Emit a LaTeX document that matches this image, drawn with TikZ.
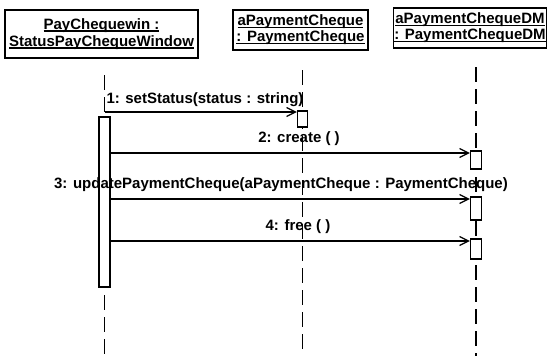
\documentclass[tikz,border=0pt]{standalone}
\usepackage{fontspec}
\setmainfont{Liberation Sans}
\usetikzlibrary{arrows.meta}
\newcommand\myul[1]{\setbox0\hbox{#1}\rlap{\rule[-2.2pt]{\wd0}{1.2pt}}\box0}
\begin{document}
\begin{tikzpicture}[x=1pt,y=-1pt,
  txt/.style={font=\fontsize{15}{15}\selectfont\bfseries, inner sep=0pt},
  objbox/.style={draw, line width=1.3pt, txt, align=center, inner sep=1pt},
  life/.style={line width=1.2pt, dash pattern=on 15pt off 7pt},
  actbar/.style={draw, line width=1.2pt, fill=white, minimum width=11pt, inner sep=0pt},
  msg/.style={line width=1.2pt, -{Straight Barb[length=9pt,width=9pt,line width=1.2pt]}}
]
\useasboundingbox (0,0) rectangle (550,356);
% objects
\node[objbox, minimum width=193pt, minimum height=48pt] (o1) at (101.5,34) {\myul{PayChequewin :}\\[2pt]\myul{StatusPayChequeWindow}};
\node[objbox, minimum width=135pt, minimum height=40pt] (o2) at (300.5,30) {\myul{aPaymentCheque}\\[1pt]\myul{: PaymentCheque}};
\node[objbox, minimum width=153pt, minimum height=40pt] (o3) at (470,28) {\myul{aPaymentChequeDM}\\[1pt]\myul{: PaymentChequeDM}};
% lifeline ends
\coordinate (l1t) at (104.5,75);
\coordinate (l1b) at (104.5,356);
\coordinate (l2t) at (302.5,70);
\coordinate (l2b) at (302.5,356);
\coordinate (l3t) at (476,67);
\coordinate (l3b) at (476,356);
\draw[life] (l1t) -- (l1b);
\draw[life] (l2t) -- (l2b);
\draw[life] (l3t) -- (l3b);
% activations
\node[actbar, minimum height=170pt] (a1) at (104.5,202) {};
\node[actbar, minimum width=10pt, minimum height=16pt] (a2) at (302.5,119) {};
\node[actbar, minimum height=18pt] (a3) at (476,160) {};
\node[actbar, minimum height=23pt] (a4) at (476,208.5) {};
\node[actbar, minimum height=20pt] (a5) at (476,249) {};
% messages
\coordinate (m1s) at (104.5,112);
\draw[msg] (m1s) -- (m1s -| a2.west);
\node[txt] (t1) at (205,100) {1: setStatus(status : string)};
\coordinate (m2s) at (a1.east |- 0,153);
\draw[msg] (m2s) -- (m2s -| a3.west);
\node[txt] (t2) at (299,139) {2: create ( )};
\coordinate (m3s) at (a1.east |- 0,199);
\draw[msg] (m3s) -- (m3s -| a4.west);
\node[txt] (t3) at (281,185) {3: updatePaymentCheque(aPaymentCheque : PaymentCheque)};
\coordinate (m4s) at (a1.east |- 0,241);
\draw[msg] (m4s) -- (m4s -| a5.west);
\node[txt] (t4) at (298,227) {4: free ( )};
\end{tikzpicture}
\end{document}
